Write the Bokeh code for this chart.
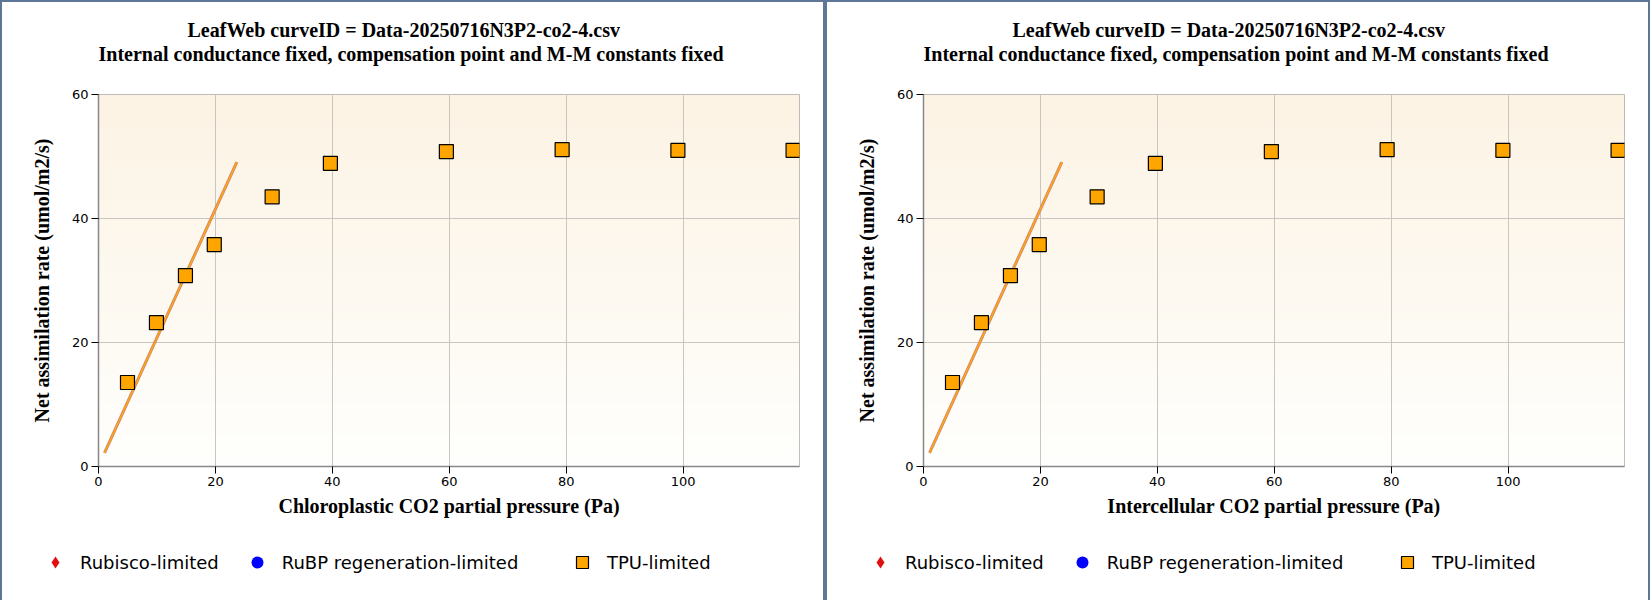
import numpy as np
from bokeh.plotting import figure
from bokeh.models import Title, Legend, LegendItem, Range1d, FixedTicker
from bokeh.layouts import row, column
from bokeh.embed import file_html
from bokeh.resources import INLINE

# ---- data ----
title_line1 = "LeafWeb curveID = Data-20250716N3P2-co2-4.csv"
title_line2 = "Internal conductance fixed, compensation point and M-M constants fixed"
x_labels = ["Chloroplastic CO2 partial pressure (Pa)", "Intercellular CO2 partial pressure (Pa)"]
y_label = "Net assimilation rate (umol/m2/s)"
legend_labels = ["Rubisco-limited", "RuBP regeneration-limited", "TPU-limited"]

x_ticks = [0, 20, 40, 60, 80, 100]
y_ticks = [0, 20, 40, 60]

tpu_x = [4.96, 9.91, 14.87, 19.8, 29.7, 39.66, 59.5, 79.3, 99.1, 118.8]
tpu_y = [13.55, 23.2, 30.8, 35.8, 43.5, 48.9, 50.8, 51.1, 51.0, 51.0]

rubisco_line_x = [1.03, 23.66]
rubisco_line_y = [2.19, 49.1]

X_MAX = 119.9
Y_MAX = 60

BORDER = "#5f7797"
SERIF = "Liberation Serif"
SANS = "DejaVu Sans"
NAN = [float("nan")]   # legend-only renderers (no points in this chart)


def gradient_image():
    n = 200
    t = np.linspace(0.0, 1.0, n)[:, None]
    top = np.array([252, 243, 228], dtype=float)
    bot = np.array([255, 255, 253], dtype=float)
    rgb = bot + (top - bot) * t
    img = np.empty((n, 1), dtype=np.uint32)
    view = img.view(dtype=np.uint8).reshape((n, 1, 4))
    view[:, 0, 0] = rgb[:, 0]
    view[:, 0, 1] = rgb[:, 1]
    view[:, 0, 2] = rgb[:, 2]
    view[:, 0, 3] = 255
    return img


def border_styles(top):
    s = {"box-sizing": "content-box",
         "border-left": f"2px solid {BORDER}",
         "border-right": f"2px solid {BORDER}"}
    if top:
        s["border-top"] = f"2px solid {BORDER}"
    return s


def no_align(fig):
    try:
        fig.frame_align = False
    except Exception:
        pass


def legend_box(items, loc, spacing):
    return Legend(items=items, location=loc, orientation="horizontal",
                  glyph_width=30, glyph_height=30, label_standoff=10,
                  label_height=20, padding=0, margin=0, spacing=spacing,
                  border_line_color=None, background_fill_alpha=0,
                  label_text_font=SANS, label_text_font_size="18px",
                  label_text_color="black")


def make_panel(xlabel):
    p = figure(width=821, height=524,
               x_range=Range1d(0, X_MAX), y_range=Range1d(0, Y_MAX),
               output_backend="svg", toolbar_location=None,
               min_border_left=96, min_border_right=28,
               min_border_top=92, min_border_bottom=62,
               background_fill_color="white", border_fill_color="white",
               outline_line_color="#aaaaaa",
               styles=border_styles(True))
    no_align(p)

    # titles (spacer nearest to frame, then line 2, then line 1)
    p.add_layout(Title(text=" ", text_font_size="10px", standoff=17), "above")
    p.add_layout(Title(text=title_line2, align="left", offset=0, standoff=0,
                       text_font=SERIF, text_font_size="20px", text_font_style="bold",
                       text_color="black"), "above")
    p.add_layout(Title(text=title_line1, align="left", offset=89, standoff=0,
                       text_font=SERIF, text_font_size="20px", text_font_style="bold",
                       text_color="black"), "above")

    p.image_rgba(image=[gradient_image()], x=0, y=0, dw=X_MAX, dh=Y_MAX, level="image")

    for ax in (p.xaxis[0], p.yaxis[0]):
        ax.axis_line_color = "#888888"
        ax.axis_line_width = 1.5
        ax.major_tick_line_color = "black"
        ax.major_tick_in = 0
        ax.major_tick_out = 7
        ax.minor_tick_line_color = None
        ax.major_label_text_font = SANS
        ax.major_label_text_font_size = "13px"
        ax.major_label_text_color = "black"
        ax.major_label_standoff = 3
        ax.axis_label_text_font = SERIF
        ax.axis_label_text_font_size = "20px"
        ax.axis_label_text_font_style = "bold"
        ax.axis_label_text_color = "black"
    p.xaxis.ticker = FixedTicker(ticks=x_ticks)
    p.yaxis.ticker = FixedTicker(ticks=y_ticks)
    p.xaxis.axis_label = xlabel
    p.yaxis.axis_label = y_label
    p.xaxis.axis_label_standoff = 6
    p.yaxis.axis_label_standoff = 16

    p.grid.grid_line_color = "#c9c6c0"
    p.grid.grid_line_width = 1

    # fitted Rubisco-limited line
    p.line(rubisco_line_x, rubisco_line_y, line_color="#c9856b", line_width=3)
    p.line(rubisco_line_x, rubisco_line_y, line_color="#ffa31a", line_width=1.6)

    p.scatter(tpu_x, tpu_y, marker="square", size=14,
              fill_color="#ffa500", line_color="black", line_width=1.2)

    # legend strip (separate small figure under the plot)
    q = figure(width=821, height=74, x_range=Range1d(0, 1), y_range=Range1d(0, 1),
               output_backend="svg", toolbar_location=None,
               x_axis_location=None, y_axis_location=None,
               min_border=0, min_border_left=0, min_border_right=0,
               min_border_top=0, min_border_bottom=0,
               outline_line_color=None,
               background_fill_color="white", border_fill_color="white",
               styles=border_styles(False))
    no_align(q)
    q.xgrid.visible = False
    q.ygrid.visible = False
    l_rub = q.scatter(x=NAN, y=NAN, marker="diamond", size=15.5,
                      fill_color="#e01010", line_color=None)
    l_rubp = q.scatter(x=NAN, y=NAN, marker="circle", size=12,
                       fill_color="#0000ff", line_color=None)
    l_tpu = q.scatter(x=NAN, y=NAN, marker="square", size=14,
                      fill_color="#ffa500", line_color="black", line_width=1.2)
    q.add_layout(legend_box([LegendItem(label=legend_labels[0], renderers=[l_rub]),
                             LegendItem(label=legend_labels[1], renderers=[l_rubp])],
                            (38, 23), 23))
    q.add_layout(legend_box([LegendItem(label=legend_labels[2], renderers=[l_tpu])],
                            (565, 23), 0))
    return column(p, q, spacing=0)


c1 = make_panel(x_labels[0])
c2 = make_panel(x_labels[1])
layout = row(c1, c2, spacing=0)

open("out.html", "w").write(file_html(layout, INLINE))
